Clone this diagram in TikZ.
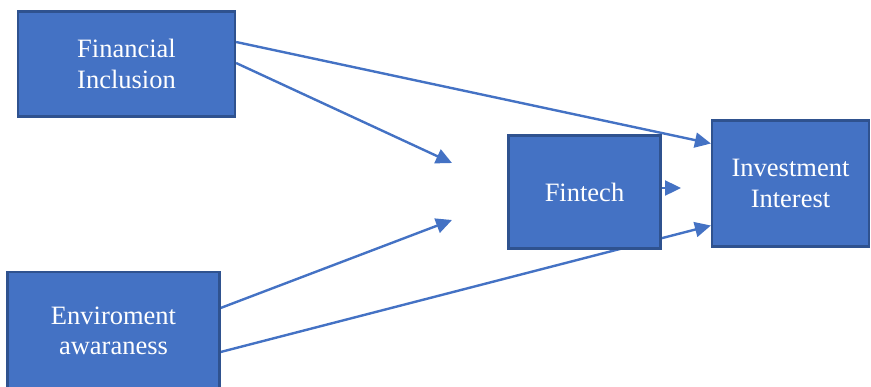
\documentclass[tikz,border=0pt]{standalone}
\usepackage{fontspec}
\setmainfont{Liberation Serif}
\usetikzlibrary{arrows.meta,backgrounds}
\definecolor{boxfill}{HTML}{4472C4}
\definecolor{boxline}{HTML}{2F528F}
\definecolor{arrowcol}{HTML}{4472C4}
\tikzset{
  box/.style={draw=boxline, line width=2.2pt, fill=boxfill, text=white, align=center,
    inner sep=0pt, font=\fontsize{26.5}{30.5}\selectfont},
  conn/.style={draw=arrowcol, line width=2.4pt, -{Triangle[length=16pt,width=15pt]}}
}
\begin{document}
\begin{tikzpicture}[x=1pt,y=-1pt]
\useasboundingbox (0,0) rectangle (871,386);
\clip (0,0) rectangle (871,386);
\node[box, minimum width=217pt, minimum height=105pt] (fi) at (126.5,64) {Financial\\Inclusion};
\node[box, minimum width=212pt, minimum height=118pt] (env) at (113.5,331) {Enviroment\\awaraness};
\node[box, minimum width=152pt, minimum height=113pt] (fin) at (584.5,192) {Fintech};
\node[box, minimum width=157pt, minimum height=126pt] (inv) at (790.5,183.5) {Investment\\Interest};
\coordinate (c1) at (452,163);
\coordinate (c2) at (452,220);
\coordinate (c3) at (681,188);
\begin{scope}[on background layer]
\draw[conn] ([yshift=22pt]fi.east) -- ([yshift=40pt]inv.west);
\draw[conn] ([yshift=1pt]fi.east) -- (c1);
\draw[conn] ([yshift=23pt]env.east) -- (c2);
\draw[conn] ([yshift=-21pt]env.east) -- ([yshift=-42pt]inv.west);
\draw[conn] ([yshift=4pt]fin.east) -- (c3);
\end{scope}
\end{tikzpicture}
\end{document}
